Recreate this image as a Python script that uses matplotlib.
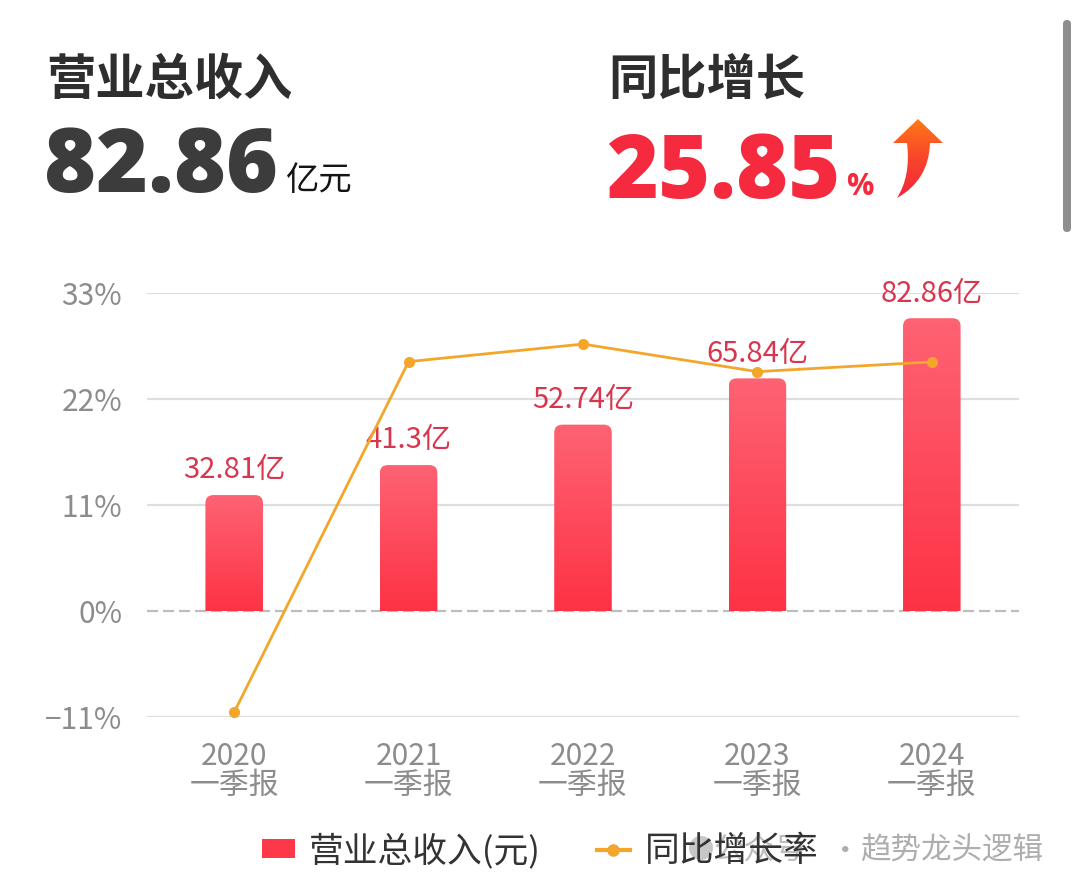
import matplotlib
matplotlib.use('Agg')
import matplotlib.pyplot as plt
import matplotlib.transforms as mtransforms
import numpy as np
from matplotlib.colors import LinearSegmentedColormap
from matplotlib.patches import FancyBboxPatch, PathPatch, Patch, Circle
from matplotlib.path import Path
from matplotlib.lines import Line2D

plt.rcParams['font.family'] = ['Noto Sans CJK SC', 'DejaVu Sans']

periods = ['2020\n一季报', '2021\n一季报', '2022\n一季报', '2023\n一季报', '2024\n一季报']
revenue = [32.81, 41.3, 52.74, 65.84, 82.86]
revenue_labels = ['32.81亿', '41.3亿', '52.74亿', '65.84亿', '82.86亿']
growth = [-10.5, 25.88, 27.70, 24.84, 25.85]
pct_ticks = [-11, 0, 11, 22, 33]
pct_tick_labels = ['\u221211%', '0%', '11%', '22%', '33%']

W, H = 1080, 891
fig = plt.figure(figsize=(W / 100, H / 100), dpi=100)
fig.patch.set_facecolor('white')


def fx(x):
    return x / W


def fy(y):
    return 1 - y / H


# bar axis (revenue, 亿) -- scaled so 0 lines up with 0%
scale = 90 / 33
ax = fig.add_axes([fx(147), fy(717), fx(1019) - fx(147), fy(293) - fy(717)])
ax.set_zorder(1)
ax.patch.set_visible(False)

for v in pct_ticks:
    if v == 0:
        ax.axhline(v * scale, color='#bdbdbd', lw=1.6, ls=(0, (5, 2.2)), zorder=0)
    else:
        ax.axhline(v * scale, color='#dedede', lw=1.6, zorder=0)

x = np.arange(len(revenue))
bars = ax.bar(x, revenue, width=0.33, color='none', edgecolor='none', zorder=2)
bar_cmap = LinearSegmentedColormap.from_list('bar', ['#fd3245', '#fe6373'])
grad = np.linspace(0, 1, 256).reshape(-1, 1)
asp = 49.4
rx = 0.046
for b in bars:
    x0, w, h = b.get_x(), b.get_width(), b.get_height()
    clip = FancyBboxPatch((x0, -3 * rx * asp), w, h + 3 * rx * asp,
                          boxstyle=f'round,pad=0,rounding_size={rx}',
                          mutation_aspect=asp, transform=ax.transData,
                          facecolor='none', edgecolor='none')
    ax.add_patch(clip)
    im = ax.imshow(grad, extent=[x0, x0 + w, 0, h], origin='lower',
                   cmap=bar_cmap, aspect='auto', zorder=2)
    im.set_clip_path(clip)

for xi, v, lbl in zip(x, revenue, revenue_labels):
    ax.annotate(lbl, (xi, v), xytext=(0, 7), textcoords='offset points',
                ha='center', va='bottom', fontsize=21, color='#d8364e', zorder=3)

ax.set_xlim(-0.5, 4.5)
ax.set_ylim(-11 * scale, 33 * scale)
ax.set_yticks([])
ax.set_xticks(x, periods)
ax.tick_params(axis='x', length=0, pad=17, labelsize=21.5, labelcolor='#8c8c8c')
for t in ax.get_xticklabels():
    t.set_linespacing(0.92)
for s in ax.spines.values():
    s.set_visible(False)

# growth-rate axis
axp = ax.twinx()
axp.set_zorder(2)
axp.plot(x, growth, color='#f3a62a', lw=2, marker='o', ms=7, clip_on=False)
axp.set_ylim(-11, 33)
axp.yaxis.tick_left()
axp.set_yticks(pct_ticks, pct_tick_labels)
axp.tick_params(axis='y', length=0, pad=18, labelsize=21.5, labelcolor='#8c8c8c')
for s in axp.spines.values():
    s.set_visible(False)

# header
fig.text(fx(46), fy(80), '营业总收入', fontsize=35.5, fontweight='bold', color='#2e2e2e',
         ha='left', va='center')
fig.text(fx(44), fy(192), '82.86', fontsize=64, fontweight=800, color='#3c3c3c',
         family=['Open Sans', 'Noto Sans', 'DejaVu Sans'], ha='left', va='baseline')
fig.text(fx(286), fy(190), '亿元', fontsize=24, color='#141414', ha='left', va='baseline')
fig.text(fx(608), fy(80), '同比增长', fontsize=35.5, fontweight='bold', color='#2e2e2e',
         ha='left', va='center')
fig.text(fx(606), fy(198), '25.85', fontsize=64, fontweight=800, color='#f52a3e',
         family=['Open Sans', 'Noto Sans', 'DejaVu Sans'], ha='left', va='baseline')
fig.text(fx(846), fy(195), '%', fontsize=22, fontweight='bold', color='#f52a3e',
         family=['Open Sans', 'Noto Sans', 'DejaVu Sans'], ha='left', va='baseline')

# gradient "up" arrow icon (pixel coords inside a small overlay axes)
ax_ar = fig.add_axes([fx(880), fy(205), fx(950) - fx(880), fy(112) - fy(205)])
ax_ar.axis('off')
arrow_path = Path(
    [(918, 119), (943, 143), (930, 143), (929, 180), (897, 198),
     (911, 176), (907, 143), (893, 143), (918, 119)],
    [Path.MOVETO, Path.LINETO, Path.LINETO, Path.CURVE3, Path.CURVE3,
     Path.CURVE3, Path.CURVE3, Path.LINETO, Path.CLOSEPOLY])
arrow = PathPatch(arrow_path, transform=ax_ar.transData, facecolor='none', edgecolor='none')
ax_ar.add_patch(arrow)
arr_cmap = LinearSegmentedColormap.from_list('arr', ['#f31f3c', '#f8452c', '#ff8210'])
aim = ax_ar.imshow(grad, extent=[880, 950, 205, 112], origin='lower', cmap=arr_cmap, aspect='auto')
aim.set_clip_path(arrow)
ax_ar.set_xlim(880, 950)
ax_ar.set_ylim(205, 112)

# scrollbar
fig.add_artist(FancyBboxPatch((1063, H - 232), 8, 212, boxstyle='round,pad=0,rounding_size=4',
                              transform=mtransforms.IdentityTransform(),
                              facecolor='#8e8e8e', edgecolor='none'))

# legend
handles = [Patch(facecolor='#fd3848', edgecolor='none'),
           Line2D([], [], color='#f3a62a', lw=3, marker='o', ms=8)]
fig.legend(handles, ['营业总收入(元)', '同比增长率'], loc='center',
           bbox_to_anchor=(fx(540), fy(851)), ncol=2, frameon=False, fontsize=25,
           handlelength=0.95, handleheight=0.45, handletextpad=0.42, columnspacing=1.6,
           labelcolor='#333333')

# watermark
fig.add_artist(Circle((701, H - 848), 12, transform=mtransforms.IdentityTransform(),
                      facecolor='#9a9a9a', edgecolor='none', alpha=0.55))
fig.text(fx(713), fy(851), '公众号', fontsize=22, color='#8a8a8a', alpha=0.55, va='center')
fig.text(fx(830), fy(851), '·', fontsize=22, color='#8a8a8a', alpha=0.7, va='center')
fig.text(fx(860), fy(851), '趋势龙头逻辑', fontsize=22, color='#9a9a9a', alpha=0.8, va='center')

fig.savefig('out.png', dpi=100)
